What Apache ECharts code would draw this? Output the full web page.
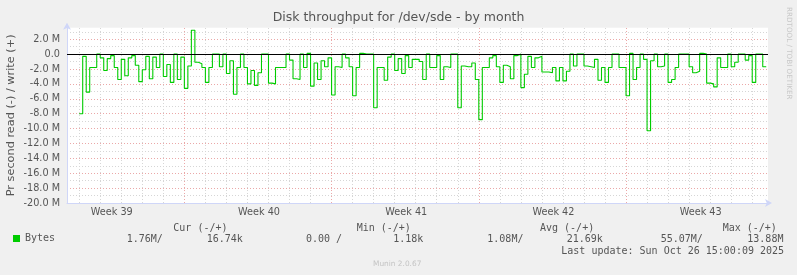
<!DOCTYPE html>
<html><head><meta charset="utf-8">
<script src="https://cdn.jsdelivr.net/npm/echarts@6/dist/echarts.min.js"></script>
<style>html,body{margin:0;padding:0;background:#F0F0F0;}#c{width:797px;height:275px;}</style>
</head><body><div id="c"></div>
<script>
// ---- data ----
const chartTitle = 'Disk throughput for /dev/sde - by month';
const yAxisName = 'Pr second read (-) / write (+)';
const seriesName = 'Bytes';
// x in days relative to Mon 29 Sep 2025 00:00 (start of week 40)
const axisStartDay = -5.58;
const axisEndDay = 27.75;
const firstSampleDay = -5;
const sampleStepDays = 1 / 6; // 4 hours
// read (-) / write (+) bytes per second, in millions
const bytesMillions = [
  -8.0, -0.3, -5.1, -1.8, -1.8, 0, -0.5, -2.2, -0.6, -0.2,
  -1.8, -3.4, -0.7, -2.9, -0.5, -0.2, -1.5, -3.7, -2.1, -0.3,
  -3.3, -0.4, -1.8, 0, -3.0, -1.4, -3.8, 0, -3.4, -0.4,
  -4.6, -1.6, 3.2, -1.1, -1.3, -1.8, -3.8, -1.8, 0, 0,
  -1.7, 0, -2.6, -0.9, -5.4, -1.8, 0, -1.8, -4.0, -2.2,
  -4.2, -2.5, 0, 0, -3.9, -4.0, -1.8, -1.8, -1.8, 0,
  -0.8, -3.3, -3.4,
  0, -1.8, 0.1, -4.3, -1.2, -3.4, -0.9, -1.7, -0.5, -5.5,
  -1.7, -1.8, 0, -0.5, -1.7, -5.6, -1.8, 0.1, 0, 0,
  0, -7.2, -1.8, -1.8, -3.5, -0.4, 0, -2.2, -0.6, -2.6,
  -0.2, -1.8, -0.7, -0.7,
  -1.0, -3.4, 0, -1.8, -1.8, -0.2, -3.4, -1.7, -1.8, 0,
  0, -7.2, -1.6, -1.7, -1.7, -1.2, -3.4, -8.8, -1.8, -1.8,
  -0.5, -0.2, -1.7, -3.8, -1.5, -1.7, -3.3, -0.2, 0, -4.5,
  -2.7, -0.3, -1.8,
  -0.5, -0.3, -2.4, -2.4, -2.5, -1.8, -3.6, -1.8, -3.6, -2.3,
  0, -1.6, 0, 0, -1.6, -1.7, -1.8, -0.7, -3.5, -1.8,
  -3.8, -1.8, 0, 0, -1.8, -1.8, -5.6, 0.1, -3.4, -1.8,
  0, -0.7, -10.3, -0.9,
  0, -1.7, -1.6, 0, -3.8, -3.4, -1.8, 0, 0, 0,
  -1.7, -2.5, -2.3, 0.1, 0, -3.9, -4.0, -4.4, -0.5, -1.8,
  -1.8, 0, -1.7, -1.1, 0, 0, -0.8, -0.2, -3.8, 0,
  0, -1.7, -1.7
];
const weekLabels = ['Week 39', 'Week 40', 'Week 41', 'Week 42', 'Week 43'];
const weekLabelDays = [-3.45, 3.55, 10.55, 17.55, 24.55];
const weekStartDays = [0, 7, 14, 21];
const dayLineDays = [-5,-4,-3,-2,-1,1,2,3,4,5,6,8,9,10,11,12,13,15,16,17,18,19,20,22,23,24,25,26,27];
const yMin = -20, yMax = 3.55, yMajor = 2, yMinor = 1;
const legendHeaders = ['Cur (-/+)', 'Min (-/+)', 'Avg (-/+)', 'Max (-/+)'];
const legendValues = ['1.76M/', '16.74k', '0.00 /', '1.18k', '1.08M/', '21.69k', '55.07M/', '13.88M'];
const lastUpdate = 'Last update: Sun Oct 26 15:00:09 2025';
const footer = 'Munin 2.0.67';
const sideText = 'RRDTOOL / TOBI OETIKER';

// ---- layout ----
const headerX = [173.3, 356.7, 540, 722.7];
const valueX = [126.7, 206.7, 306, 393.2, 487.3, 566.7, 660.7, 747.3];
const mono = 'DejaVu Sans Mono';
const sans = 'DejaVu Sans';
const fontCol = '#555';

const chart = echarts.init(document.getElementById('c'), null, {renderer: 'canvas'});
const seriesData = bytesMillions.map((v, i) => [firstSampleDay + i * sampleStepDays, v]);

const graphics = [];
legendHeaders.forEach((t, i) => graphics.push({type: 'text', x: headerX[i], y: 228, style: {text: t, font: '10px ' + mono, fill: fontCol, verticalAlign: 'middle'}}));
legendValues.forEach((t, i) => graphics.push({type: 'text', x: valueX[i], y: 239.5, style: {text: t, font: '10px ' + mono, fill: fontCol, verticalAlign: 'middle'}}));
graphics.push({type: 'text', x: 561.3, y: 251.7, style: {text: lastUpdate, font: '10px ' + mono, fill: fontCol, verticalAlign: 'middle'}});
graphics.push({type: 'text', x: 373, y: 264, style: {text: footer, font: '7.4px ' + sans, fill: '#c4c4c4', verticalAlign: 'middle'}});
graphics.push({type: 'text', x: 789, y: 7, rotation: -Math.PI / 2, style: {text: sideText, font: '7.2px ' + sans, fill: '#c8c8c8', verticalAlign: 'middle', align: 'left'}});

const gridLine = (days, color) => days.map(d => ({xAxis: d, lineStyle: {color: color, type: [1, 2], width: 1}}));

chart.setOption({
  animation: false,
  backgroundColor: '#F0F0F0',
  title: {text: chartTitle, left: 'center', top: 11.5, padding: 0,
    textStyle: {fontFamily: sans, fontSize: 12.5, fontWeight: 'normal', color: fontCol}},
  legend: {data: [seriesName], left: 13, top: 233.5, icon: 'rect', itemWidth: 7, itemHeight: 7, selectedMode: false, padding: 0,
    textStyle: {fontFamily: mono, fontSize: 10, color: fontCol}},
  grid: {left: 67, right: 29, top: 27.7, bottom: 72, show: true, backgroundColor: '#FFFFFF', borderWidth: 0,
    containLabel: false, outerBoundsMode: 'none'},
  xAxis: {
    type: 'value', min: axisStartDay, max: axisEndDay,
    splitLine: {show: false}, axisTick: {show: false},
    axisLine: {show: true, onZero: false, lineStyle: {color: '#CFD6F8', width: 1}, symbol: ['none', 'arrow'], symbolSize: [6, 7], symbolOffset: [0, 4]},
    axisLabel: {customValues: weekLabelDays, margin: 4, fontFamily: sans, fontSize: 9.7, color: fontCol,
      formatter: v => { const i = weekLabelDays.findIndex(d => Math.abs(d - v) < 1e-6); return i >= 0 ? weekLabels[i] : ''; }}
  },
  yAxis: [
    {type: 'value', min: yMin, max: yMax, interval: yMinor, position: 'left',
      axisLabel: {show: false}, axisTick: {show: false}, axisLine: {show: false},
      splitLine: {show: true, showMaxLine: false, showMinLine: false, lineStyle: {color: '#d6d6d6', type: [1, 2]}}},
    {type: 'value', min: yMin, max: yMax, interval: yMajor, position: 'left',
      name: yAxisName, nameLocation: 'middle', nameGap: 50, nameRotate: 90, nameMoveOverlap: false,
      nameTextStyle: {fontFamily: sans, fontSize: 11.3, color: fontCol},
      axisTick: {show: false},
      axisLine: {show: true, onZero: false, lineStyle: {color: '#CFD6F8', width: 1}, symbol: ['none', 'arrow'], symbolSize: [6, 7], symbolOffset: [0, 5]},
      axisLabel: {margin: 7, showMaxLabel: false, fontFamily: sans, fontSize: 9.7, color: fontCol,
        formatter: v => Math.abs(v) < 1e-9 ? '0.0' : v.toFixed(1) + ' M'},
      splitLine: {show: true, showMaxLine: false, showMinLine: false, lineStyle: {color: '#eba8a8', type: [1, 2]}}}
  ],
  series: [
    {type: 'line', name: 'grid', yAxisIndex: 1, data: [], silent: true, legendHoverLink: false,
      markLine: {silent: true, z: 1, symbol: 'none', label: {show: false}, animation: false,
        data: gridLine(dayLineDays, '#d6d6d6').concat(gridLine(weekStartDays, '#eba8a8'))}},
    {type: 'line', name: seriesName, yAxisIndex: 1, data: seriesData, step: 'end', showSymbol: false, z: 3,
      color: '#00CC00', lineStyle: {color: '#00CC00', width: 1.1},
      markLine: {silent: true, z: 5, symbol: 'none', label: {show: false}, animation: false,
        data: [{yAxis: 0, lineStyle: {color: '#000000', type: 'solid', width: 1.2}}]}}
  ],
  graphic: graphics
});
</script></body></html>
